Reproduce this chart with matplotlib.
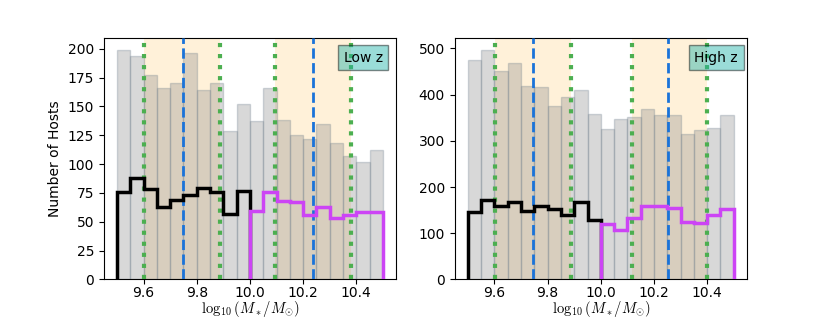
import numpy as np
import matplotlib
matplotlib.use("Agg")
import matplotlib.pyplot as plt

plt.rcParams['mathtext.fontset'] = 'cm'

# bin edges shared by both panels (log stellar mass)
bin_edges = np.round(np.arange(9.5, 10.5001, 0.05), 2)
bin_centers = (bin_edges[:-1] + bin_edges[1:]) / 2

# Low z panel
low_all = [199, 194, 177, 166, 170, 196, 164, 170, 129, 152,
           137, 166, 138, 125, 122, 135, 118, 107, 102, 112]
low_black = [76, 88, 78, 63, 69, 73, 79, 76, 57, 77]
low_magenta = [59, 76, 68, 67, 56, 63, 53, 56, 58, 58]
low_green = [9.6, 9.888, 10.094, 10.379]
low_blue = [9.75, 10.238]
low_yticks = [0, 25, 50, 75, 100, 125, 150, 175, 200]

# High z panel
high_all = [474, 497, 451, 469, 419, 416, 376, 395, 411, 358,
            325, 347, 352, 368, 355, 355, 314, 324, 328, 355]
high_black = [145, 171, 158, 168, 147, 158, 152, 140, 167, 129]
high_magenta = [119, 107, 133, 158, 158, 154, 125, 122, 139, 152]
high_green = [9.602, 9.888, 10.118, 10.4]
high_blue = [9.745, 10.251]
high_yticks = [0, 100, 200, 300, 400, 500]

panels = [
    ("Low z", low_all, low_black, low_magenta, low_green, low_blue, low_yticks),
    ("High z", high_all, high_black, high_magenta, high_green, high_blue, high_yticks),
]

fig, axes = plt.subplots(1, 2, figsize=(8.3, 3.2), dpi=100)
fig.subplots_adjust(left=0.125, right=0.9, top=0.88, bottom=0.127, wspace=0.2)

for i, (label, h_all, h_black, h_mag, greens, blues, yt) in enumerate(panels):
    ax = axes[i]
    # shaded ranges between the dotted lines
    ax.axvspan(greens[0], greens[1], color='orange', alpha=0.15, lw=0, zorder=0)
    ax.axvspan(greens[2], greens[3], color='orange', alpha=0.15, lw=0, zorder=0)

    ax.hist(bin_centers, bins=bin_edges, weights=h_all,
            facecolor=(0.5, 0.5, 0.5, 0.3), edgecolor=(0.44, 0.5, 0.56, 0.3),
            linewidth=1, zorder=1)
    ax.hist(bin_centers[:10], bins=bin_edges[:11], weights=h_black,
            histtype='step', color='black', linewidth=2.5, zorder=4)
    ax.hist(bin_centers[10:], bins=bin_edges[10:], weights=h_mag,
            histtype='step', color='#cc44f5', linewidth=2.5, zorder=4)

    for g in greens:
        ax.axvline(g, color='#4caf50', linestyle=':', linewidth=3, zorder=3)
    for b in blues:
        ax.axvline(b, color='#1a73d9', linestyle='--', linewidth=2, zorder=3)

    ax.text(0.82, 0.92, label, transform=ax.transAxes, ha='left', va='center',
            fontsize=10, zorder=5,
            bbox=dict(facecolor='lightseagreen', alpha=0.45))

    ax.tick_params(axis='x', pad=1.5)
    ax.set_xlabel(r'$\log_{10}(M_*/M_{\odot})$', fontsize=10.5, va='top')
    ax.xaxis.set_label_coords(0.5, -0.083)
    ax.set_xticks([9.6, 9.8, 10.0, 10.2, 10.4])
    ax.set_yticks(yt)

axes[0].set_ylabel('Number of Hosts')

plt.savefig('out.png', dpi=100)
